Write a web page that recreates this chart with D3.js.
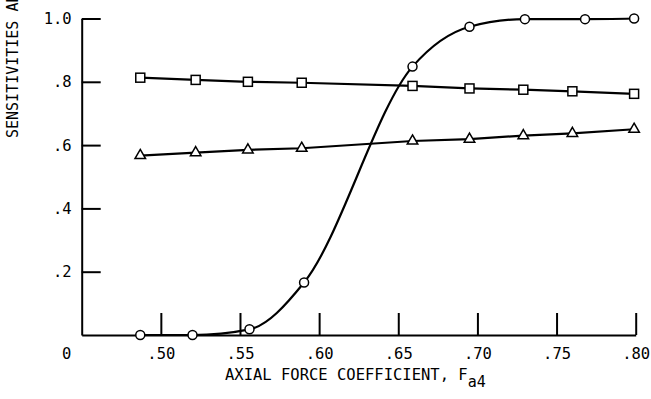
<!DOCTYPE html>
<html>
<head>
<meta charset="utf-8">
<script src="https://cdn.jsdelivr.net/npm/d3@7/dist/d3.min.js"></script>
<style>
  html, body { margin: 0; padding: 0; background: #fff; }
  svg { display: block; }
  text { font-family: "DejaVu Sans Mono", monospace; fill: #000; }
</style>
</head>
<body>
<script>
// Axial force coefficient for each marker
const xTriSq = [0.487, 0.522, 0.555, 0.589, 0.659, 0.695, 0.729, 0.760, 0.799];
const xCircle = [0.487, 0.520, 0.556, 0.5905, 0.659, 0.695, 0.730, 0.768, 0.799];

// Series values
const circleValues = [0.0, 0.0, 0.018, 0.166, 0.848, 0.974, 0.998, 0.998, 1.0];
const squareValues = [0.813, 0.806, 0.800, 0.797, 0.787, 0.779, 0.775, 0.770, 0.762];
const triangleValues = [0.567, 0.576, 0.585, 0.590, 0.613, 0.619, 0.630, 0.637, 0.650];

// Tick values
const xTicks = [0.50, 0.55, 0.60, 0.65, 0.70, 0.75, 0.80];
const yTicks = [0.2, 0.4, 0.6, 0.8, 1.0];

const W = 651, H = 399;
const svg = d3.select("body").append("svg")
  .attr("width", W).attr("height", H)
  .style("background", "#fff");

const x = d3.scaleLinear().domain([0.45, 0.80]).range([81.7, 635.7]);
const y = d3.scaleLinear().domain([0, 1]).range([335, 18.5]);

const FS = 15.5;

// X axis with inward ticks
const xAxis = d3.axisBottom(x)
  .tickValues(xTicks)
  .tickSize(-22)
  .tickSizeOuter(0)
  .tickPadding(13)
  .tickFormat(d => d3.format(".2f")(d).replace(/^0/, ""));

const gx = svg.append("g").attr("transform", `translate(0,${y(0)})`).call(xAxis);

// Y axis with inward ticks
const yAxis = d3.axisLeft(y)
  .tickValues(yTicks)
  .tickSize(-19)
  .tickSizeOuter(0)
  .tickPadding(10)
  .tickFormat(d => d >= 1 ? "1.0" : d3.format(".1f")(d).replace(/^0/, ""));

const gy = svg.append("g").attr("transform", `translate(${x(0.45)},0)`).call(yAxis);

[gx, gy].forEach(g => {
  g.selectAll("path.domain").attr("stroke", "#000").attr("stroke-width", 2);
  g.selectAll(".tick line").attr("stroke", "#000").attr("stroke-width", 2);
  g.selectAll(".tick text")
    .attr("font-family", "DejaVu Sans Mono, monospace")
    .attr("font-size", FS)
    .attr("fill", "#000");
});

// Zero label sits below the corner
svg.append("text")
  .attr("x", 66.7).attr("y", y(0) + 13)
  .attr("dy", "0.71em")
  .attr("text-anchor", "middle")
  .attr("font-size", FS)
  .text("0");

// Axis titles
const xt = svg.append("text")
  .attr("x", 225).attr("y", 380)
  .attr("font-size", FS);
xt.append("tspan").text("AXIAL FORCE COEFFICIENT, F");
xt.append("tspan").attr("dy", 6.5).attr("font-size", 15).text("a4");

svg.append("text")
  .attr("transform", "translate(18,138) rotate(-90)")
  .attr("font-size", 15)
  .text("SENSITIVITIES AND");

// Lines
const lineLinear = (xs) => d3.line()
  .x((d, i) => x(xs[i]))
  .y(d => y(d))
  .curve(d3.curveLinear);

const lineSmooth = d3.line()
  .x((d, i) => x(xCircle[i]))
  .y(d => y(d))
  .curve(d3.curveMonotoneX);

svg.append("path").datum(squareValues)
  .attr("d", lineLinear(xTriSq))
  .attr("fill", "none").attr("stroke", "#000").attr("stroke-width", 2.2);

svg.append("path").datum(triangleValues)
  .attr("d", lineLinear(xTriSq))
  .attr("fill", "none").attr("stroke", "#000").attr("stroke-width", 2.2);

svg.append("path").datum(circleValues)
  .attr("d", lineSmooth)
  .attr("fill", "none").attr("stroke", "#000").attr("stroke-width", 2.2);

// Markers
svg.append("g").selectAll("circle").data(circleValues).join("circle")
  .attr("cx", (d, i) => x(xCircle[i]))
  .attr("cy", d => y(d))
  .attr("r", 4.5)
  .attr("fill", "#fff").attr("stroke", "#000").attr("stroke-width", 1.5);

svg.append("g").selectAll("rect").data(squareValues).join("rect")
  .attr("x", (d, i) => x(xTriSq[i]) - 4.5)
  .attr("y", d => y(d) - 4.5)
  .attr("width", 9).attr("height", 9)
  .attr("fill", "#fff").attr("stroke", "#000").attr("stroke-width", 1.5);

const tri = d3.symbol().type(d3.symbolTriangle).size(48);
svg.append("g").selectAll("path").data(triangleValues).join("path")
  .attr("d", tri)
  .attr("transform", (d, i) => `translate(${x(xTriSq[i])},${y(d)})`)
  .attr("fill", "#fff").attr("stroke", "#000").attr("stroke-width", 1.5);
</script>
</body>
</html>
